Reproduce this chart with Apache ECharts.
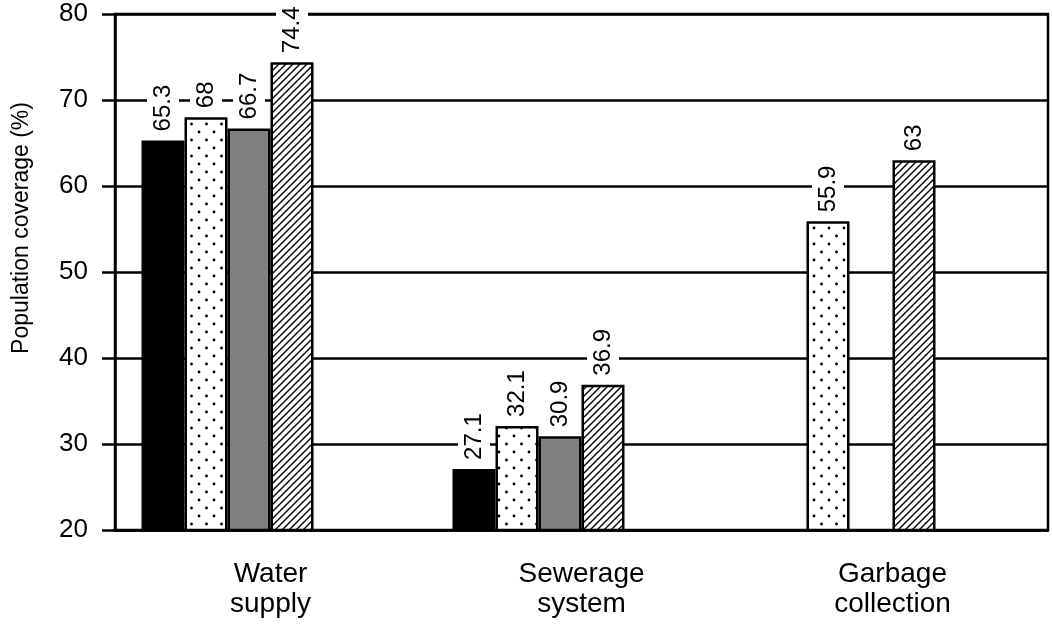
<!DOCTYPE html>
<html>
<head>
<meta charset="utf-8">
<script src="https://cdn.jsdelivr.net/npm/echarts@6/dist/echarts.min.js"></script>
<style>
    html, body {
        margin: 0;
        padding: 0;
        background: #fff;
    }
    #chart {
        width: 1052px;
        height: 629px;
    }
</style>
</head>
<body>
<div id="chart"></div>
<script>
// categories and values
const categories = ['Water\nsupply', 'Sewerage\nsystem', 'Garbage\ncollection']
const seriesA = [65.3, 27.1, null]   // black
const seriesB = [68, 32.1, 55.9]     // dotted
const seriesC = [66.7, 30.9, null]   // gray
const seriesD = [74.4, 36.9, 63]     // hatched
const yTicks = { min: 20, max: 80, step: 10 }

// pattern fills
function dotPattern() {
    let c = document.createElement('canvas')
    c.width = 15
    c.height = 16
    let ctx = c.getContext('2d')
    ctx.fillStyle = '#fff'
    ctx.fillRect(0, 0, 15, 16)
    ctx.fillStyle = '#000'
    ctx.beginPath()
    ctx.arc(4, 4, 1.4, 0, Math.PI * 2)
    ctx.arc(11.5, 12, 1.4, 0, Math.PI * 2)
    ctx.fill()
    return c
}

function hatchPattern() {
    let s = 7
    let c = document.createElement('canvas')
    c.width = s
    c.height = s
    let ctx = c.getContext('2d')
    ctx.fillStyle = '#fff'
    ctx.fillRect(0, 0, s, s)
    ctx.strokeStyle = '#000'
    ctx.lineWidth = 1.4
    ctx.beginPath()
    ctx.moveTo(0, s)
    ctx.lineTo(s, 0)
    ctx.moveTo(-1, 1)
    ctx.lineTo(1, -1)
    ctx.moveTo(s - 1, s + 1)
    ctx.lineTo(s + 1, s - 1)
    ctx.stroke()
    return c
}

const font = 'Liberation Sans'
const lineW = 2.5

const labelStyle = {
    show: true,
    position: 'top',
    rotate: 90,
    align: 'left',
    verticalAlign: 'middle',
    distance: 8,
    fontFamily: font,
    fontSize: 24,
    color: '#000',
    backgroundColor: '#fff',
    padding: [4, 1, 4, 1]
}

function barSeries(data, fill) {
    return {
        type: 'bar',
        data: data,
        barWidth: 43,
        barGap: '0%',
        itemStyle: {
            color: fill,
            borderColor: '#000',
            borderWidth: lineW
        },
        label: labelStyle
    }
}

let chart = echarts.init(document.getElementById('chart'))

chart.setOption({
    animation: false,
    grid: {
        left: 115,
        right: 4,
        top: 14,
        bottom: 99,
        show: true,
        borderColor: '#000',
        borderWidth: lineW
    },
    xAxis: {
        type: 'category',
        data: categories,
        axisLine: { lineStyle: { color: '#000', width: lineW } },
        axisTick: { inside: true, length: 12, lineStyle: { color: '#000', width: lineW } },
        axisLabel: {
            margin: 29,
            fontFamily: font,
            fontSize: 28,
            lineHeight: 30,
            color: '#000'
        }
    },
    yAxis: {
        type: 'value',
        min: yTicks.min,
        max: yTicks.max,
        interval: yTicks.step,
        name: 'Population coverage (%)',
        nameLocation: 'middle',
        nameRotate: 90,
        nameGap: 82,
        nameTextStyle: {
            fontFamily: font,
            fontSize: 23,
            color: '#000',
            padding: [0, 0, 0, 88]
        },
        axisLine: { show: true, lineStyle: { color: '#000', width: lineW } },
        axisTick: { show: true, length: 13, lineStyle: { color: '#000', width: lineW } },
        axisLabel: {
            margin: 27,
            fontFamily: font,
            fontSize: 26,
            color: '#000'
        },
        splitLine: { lineStyle: { color: '#000', width: lineW } }
    },
    series: [
        barSeries(seriesA, '#000'),
        barSeries(seriesB, { image: dotPattern(), repeat: 'repeat' }),
        barSeries(seriesC, '#808080'),
        barSeries(seriesD, { image: hatchPattern(), repeat: 'repeat' }),
        // two empty slots to the right, as in the original layout
        { type: 'bar', data: [], barWidth: 43, barGap: '0%' },
        { type: 'bar', data: [], barWidth: 43, barGap: '0%' }
    ]
})
</script>
</body>
</html>
